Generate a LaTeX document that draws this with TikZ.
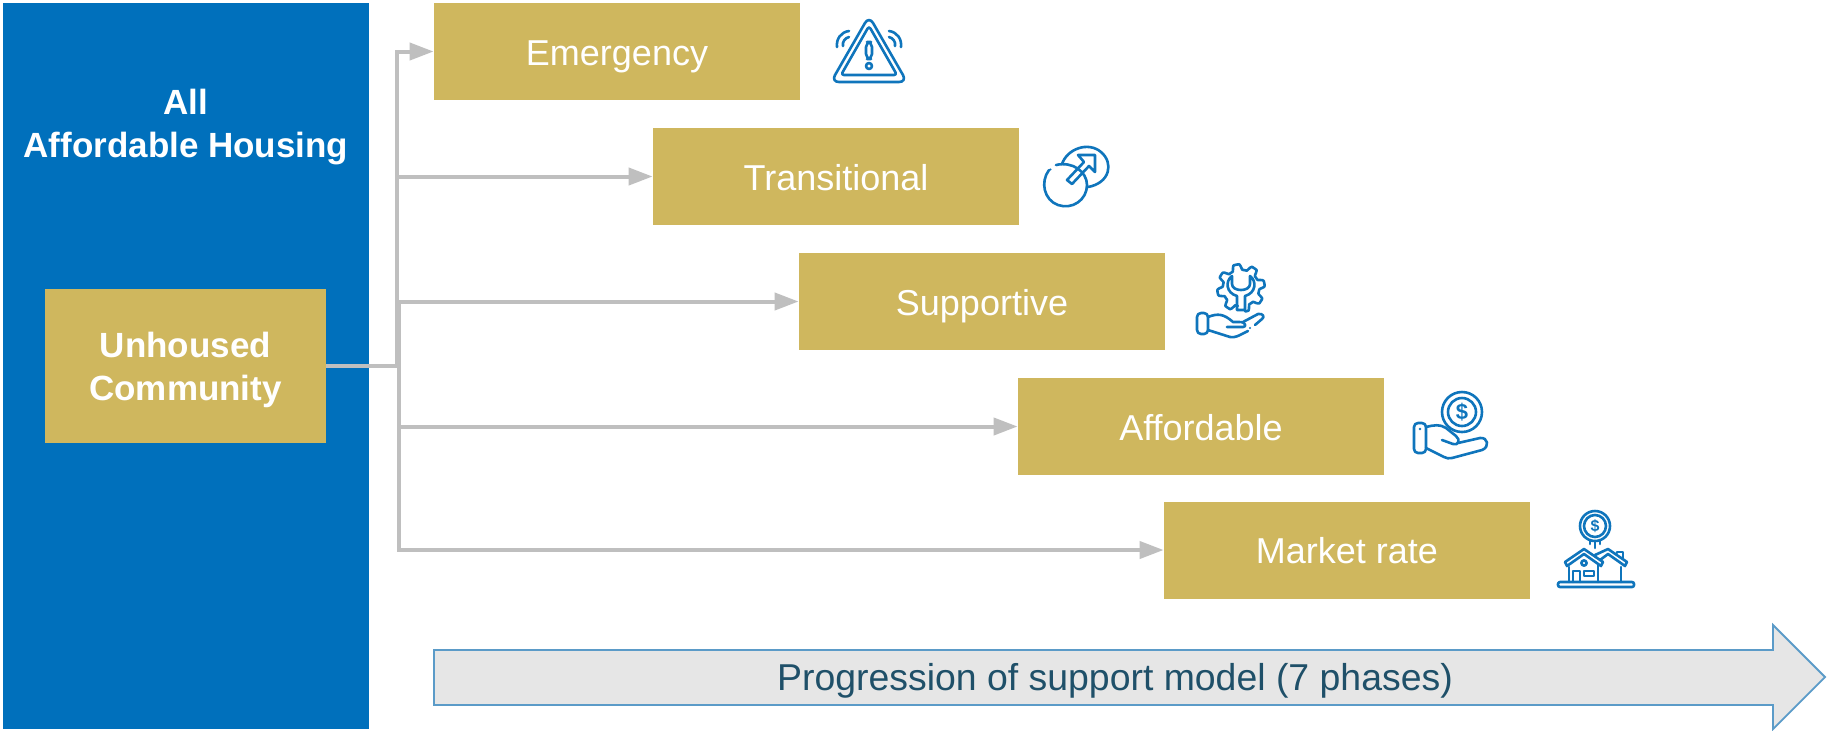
\documentclass[tikz,border=0pt]{standalone}
\usepackage{fontspec}
\setmainfont{Liberation Sans}
\usetikzlibrary{arrows.meta}
\definecolor{panelblue}{HTML}{0070BC}
\definecolor{gold}{HTML}{CFB75E}
\definecolor{conn}{HTML}{BFBFBF}
\definecolor{iconblue}{HTML}{0F75BC}
\definecolor{arrowedge}{HTML}{5B9BC8}
\definecolor{arrowfill}{HTML}{E6E6E6}
\definecolor{arrowtext}{HTML}{1F5069}
\tikzset{
  phasebox/.style={fill=gold,text=white,minimum width=183pt,minimum height=48.5pt,inner sep=0pt,text height=13.5pt,text depth=0pt,font=\fontsize{18}{22}\selectfont},
  headtext/.style={text=white,align=center,inner sep=0pt,font=\fontsize{17.5}{21.5}\selectfont\bfseries},
  link/.style={draw=conn,line width=2pt,-{Triangle[length=12pt,width=8.5pt]}},
  plainlink/.style={draw=conn,line width=2pt},
  icon/.style={draw=iconblue,line width=1.3pt,line join=round,line cap=round},
  dollar/.style={text=iconblue,inner sep=0pt,font=\bfseries}
}
\begin{document}
\begin{tikzpicture}[x=0.5pt,y=-0.5pt]
\useasboundingbox (0,0) rectangle (1827,730);
\fill[white] (0,0) rectangle (1827,730);
% panel
\node[fill=panelblue,minimum width=183pt,minimum height=363pt,inner sep=0pt] (panel) at (186,366) {};
\node[headtext] (allhead) at (186,127.5) {All\\Affordable Housing};
\node[fill=gold,minimum width=140.5pt,minimum height=77pt,inner sep=0pt] (unhoused) at (185.5,366) {};
\node[headtext] (unlabel) at (185.5,370) {Unhoused\\Community};
% phase boxes
\node[phasebox] (em) at (617,51.5) {Emergency};
\node[phasebox] (tr) at (836,176.5) {Transitional};
\node[phasebox] (su) at (982,301.5) {Supportive};
\node[phasebox] (af) at (1201,426.5) {Affordable};
\node[phasebox] (ma) at (1347,550) {Market rate};
% connectors
\coordinate (tu) at (397,366);
\coordinate (tl) at (398.5,366);
\draw[plainlink] (unhoused.east) -- (tl);
\draw[link] (tu) |- (em.west);
\draw[link] (tu) |- (tr.west);
\draw[link] (tl) |- (su.west);
\draw[link] (tl) |- (af.west);
\draw[link] (tl) |- (ma.west);
% progression arrow
\draw[draw=arrowedge,fill=arrowfill,line width=0.9pt,line join=miter]
  (434,650) -- (1773,650) -- (1773,625) -- (1825,677) -- (1773,729) -- (1773,705) -- (434,705) -- cycle;
\node[text=arrowtext,inner sep=0pt,font=\fontsize{18.7}{22}\selectfont] (prog) at (1115,681) {Progression of support model (7 phases)};
% warning icon
\draw[icon,rounded corners=4pt] (869,16) -- (907,82) -- (831,82) -- cycle;
\draw[icon,rounded corners=1.5pt] (869,26) -- (897,75) -- (841,75) -- cycle;
\draw[icon,fill=white,rounded corners=2.5pt] (866,42) rectangle (872,59);
\draw[icon] (869,66) circle (3);
\draw[icon] (849,31) .. controls (841,32) and (836,39) .. (837,47);
\draw[icon] (849,37) .. controls (845,38) and (842,42) .. (843,46);
\draw[icon] (889,31) .. controls (897,32) and (902,39) .. (901,47);
\draw[icon] (889,37) .. controls (893,38) and (896,42) .. (895,46);
% transition icon
\draw[icon] (1062,164) .. controls (1067,149) and (1088,141) .. (1101,152) .. controls (1114,163) and (1110,183) .. (1088,187);
\draw[icon] (1049,170) .. controls (1040,182) and (1044,200) .. (1058,205) .. controls (1072,210) and (1087,200) .. (1087,185) .. controls (1087,172) and (1073,161) .. (1056,165);
\draw[icon] (1095,155) -- (1095,172) -- (1089,166) -- (1072,184) -- (1067,180) -- (1084,162) -- (1078,155) -- cycle;
\fill[iconblue] (1050.5,169.5) circle (1.2);
% gear wrench icon
\draw[icon] plot[domain=100:440,samples=120,smooth] ({1241+(21+2.8*max(-1,min(1,2*cos(8*\x+90))))*cos(\x)},{288+(21+2.8*max(-1,min(1,2*cos(8*\x+90))))*sin(\x)});
\draw[icon] (1232,276) .. controls (1225,281) and (1226,293) .. (1237,296) -- (1237,310) -- (1245,310) -- (1245,296) .. controls (1256,293) and (1257,281) .. (1250,276) -- (1250,284) .. controls (1250,292) and (1232,292) .. (1232,284) -- cycle;
\draw[icon,rounded corners=2pt] (1197,313) rectangle (1208,334);
\draw[icon] (1208,317) .. controls (1218,313) and (1224,314) .. (1233,322) -- (1240,322);
\draw[icon] (1227,327) -- (1243,327) .. controls (1247,327) and (1245,322) .. (1241,322);
\draw[icon] (1243,322) -- (1258,314) .. controls (1263,313) and (1265,317) .. (1262,319) -- (1255,325);
\draw[icon] (1208,330) -- (1230,337) .. controls (1235,338) and (1238,336) .. (1248,331);
\fill[iconblue] (1250,328) circle (1.2);
% hand coin icon
\draw[icon] (1462,412) circle (20);
\draw[icon] (1462,412) circle (14);
\node[dollar,font=\fontsize{11}{12}\selectfont\bfseries] (d1) at (1462,412) {\$};
\draw[icon,rounded corners=2pt] (1414,423) rectangle (1426,453);
\fill[iconblue] (1420,429) circle (1.4);
\draw[icon] (1426,427) .. controls (1434,425) and (1440,424) .. (1446,428) -- (1456,436) .. controls (1461,440) and (1458,446) .. (1453,444) -- (1442,440);
\draw[icon] (1458,443) -- (1480,438) .. controls (1488,437) and (1490,447) .. (1482,450) -- (1452,458) .. controls (1449,459) and (1446,458) .. (1444,457) -- (1426,448);
% house icon
\draw[icon] (1595,526) circle (15);
\draw[icon] (1595,526) circle (11);
\node[dollar,font=\fontsize{8}{9}\selectfont\bfseries] (d2) at (1595,526) {\$};
\draw[icon] (1595,541) -- (1595,548);
\draw[icon] (1590,541) -- (1590,544);
\draw[icon] (1600,541) -- (1600,544);
\draw[icon,rounded corners=1pt] (1558,582) rectangle (1634,587);
\draw[icon] (1584,549) -- (1603,562) -- (1601,566) -- (1584,554) -- (1567,566) -- (1565,562) -- cycle;
\draw[icon] (1569,567) -- (1569,582);
\draw[icon] (1598,565) -- (1598,582);
\draw[icon] (1573,582) -- (1573,571) -- (1580,571) -- (1580,582);
\draw[icon] (1584,571) rectangle (1594,576);
\draw[icon] (1584,563) circle (2.6);
\draw[icon] (1595,555) -- (1608,549) -- (1627,562) -- (1625,566) -- (1608,554) -- (1600,560);
\draw[icon] (1621,567) -- (1621,582);
\draw[icon] (1617,553) -- (1617,552) -- (1623,552) -- (1623,558);
\end{tikzpicture}
\end{document}
